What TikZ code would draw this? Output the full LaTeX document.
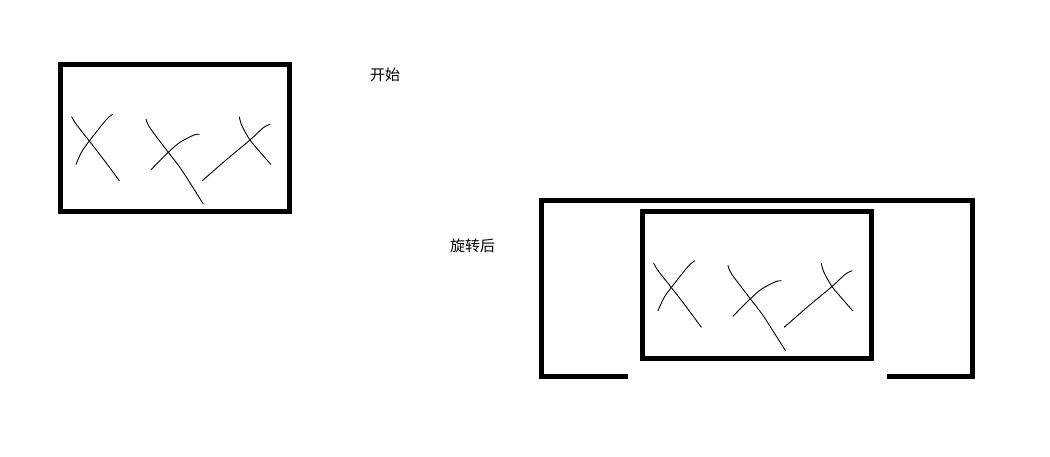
\documentclass[tikz,border=0pt]{standalone}
\usepackage{fontspec}
\newfontfamily\cjk{Noto Sans CJK SC}
\begin{document}
\begin{tikzpicture}[x=1pt,y=-1pt,
  frame/.style={draw=black,line width=5pt,line join=miter},
  stroke/.style={draw=black,line width=0.9pt,line cap=round,line join=round},
  label/.style={font=\cjk\fontsize{15}{17}\selectfont,inner sep=0pt,text=black},
  pics/xmarks/.style={code={
    \draw[frame] (60.5,65) rectangle (289,211.5);
    \draw[stroke] plot[smooth] coordinates {(71.7,116.7) (76,124) (89.3,141) (104,160) (119.3,180.7)};
    \draw[stroke] plot[smooth] coordinates {(112.7,114.3) (106,120) (89.3,141) (81.7,151.7) (76,164.3)};
    \draw[stroke] plot[smooth] coordinates {(146,119) (150,128) (168.3,152.3) (181.7,170) (203.3,204)};
    \draw[stroke] plot[smooth] coordinates {(199.3,134.3) (194,135) (180,142.3) (168.3,152.3) (151,169.7)};
    \draw[stroke] plot[smooth] coordinates {(239.3,117) (242,126) (250,140) (260,152) (270.7,164.3)};
    \draw[stroke] plot[smooth] coordinates {(270,124.3) (263.3,127.7) (250,140) (226,160) (202.3,180.7)};
  }}]
\useasboundingbox (0,0) rectangle (1050,457);
\fill[white] (0,0) rectangle (1050,457);
\pic (before) at (0,0) {xmarks};
\pic (after) at (582,146.5) {xmarks};
\draw[frame,line cap=butt] (627.7,376) -- (541,376) -- (541,201) -- (972,201) -- (972,376) -- (886.7,376);
\node[label] (start) at (385,75) {开始};
\node[label] (rotated) at (472.5,245.5) {旋转后};
\end{tikzpicture}
\end{document}
